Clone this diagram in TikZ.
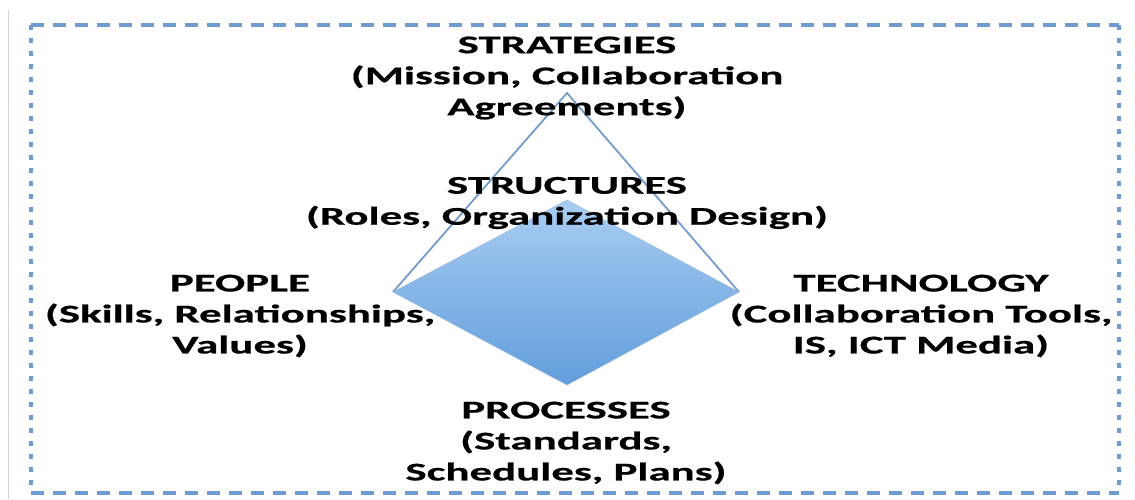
\documentclass[tikz,border=0pt]{standalone}
\usepackage{fontspec}
\setmainfont[FakeStretch=1.76,FakeBold=0.6]{Carlito}
\definecolor{dashblue}{RGB}{110,155,210}
\definecolor{lineblue}{RGB}{115,155,205}
\definecolor{topblue}{RGB}{168,205,242}
\definecolor{botblue}{RGB}{98,158,220}
\tikzset{
  lbl/.style={align=center, font=\fontsize{25.5}{31}\selectfont\bfseries, inner sep=0pt, text=black},
  hdash/.style={dashblue, line width=3.3pt, dash pattern=on 13pt off 9pt},
  vdash/.style={dashblue, line width=3.3pt, dash pattern=on 5pt off 8pt},
}
\begin{document}
\begin{tikzpicture}[x=1pt,y=-1pt]
\useasboundingbox (0,0) rectangle (1135,499);
\draw[gray!35, line width=1pt] (8,10) -- (8,499);
\coordinate (c1) at (31,25);
\coordinate (c2) at (1119,25);
\coordinate (c3) at (1119,493);
\coordinate (c4) at (31,493);
\draw[hdash] (c1) -- (c2);
\draw[hdash] (c4) -- (c3);
\draw[vdash] (c1) -- (c4);
\draw[vdash] (c2) -- (c3);
% triangle
\coordinate (apex) at (567,93);
\coordinate (L) at (393,292);
\coordinate (R) at (739,292);
\coordinate (T) at (567,200);
\coordinate (B) at (567,385);
\draw[lineblue, line width=1.8pt, line join=miter] (L) -- (apex) -- (R);
\shade[top color=topblue, bottom color=botblue, draw=lineblue!70, line width=0.5pt] (L) -- (T) -- (R) -- (B) -- cycle;
\node[lbl] (strat) at (567,78) {STRATEGIES\\(Mission, Collaboration\\Agreements)};
\node[lbl] (struct) at (567,203) {STRUCTURES\\(Roles, Organization Design)};
\node[lbl] (people) at (240,316) {PEOPLE\\(Skills, Relationships,\\Values)};
\node[lbl] (tech) at (921,316) {TECHNOLOGY\\(Collaboration Tools,\\IS, ICT Media)};
\node[lbl] (proc) at (566,443) {PROCESSES\\(Standards,\\Schedules, Plans)};
\end{tikzpicture}
\end{document}
